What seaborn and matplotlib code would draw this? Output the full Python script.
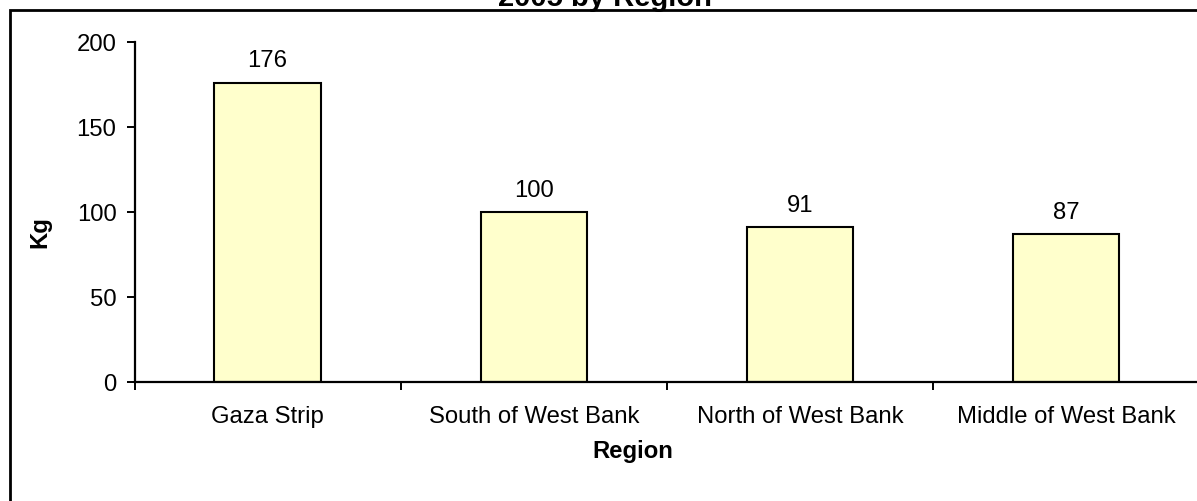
import matplotlib
matplotlib.use("Agg")
import matplotlib.pyplot as plt
from matplotlib.patches import Rectangle
import seaborn as sns
import pandas as pd

# Data
regions = ["Gaza Strip", "South of West Bank", "North of West Bank", "Middle of West Bank"]
kg = [176, 100, 91, 87]
y_ticks = [0, 50, 100, 150, 200]
title_text = "2005 by Region"
x_label = "Region"
y_label = "Kg"

sns.set_theme(style="white")
plt.rcParams["font.family"] = ["Liberation Sans", "DejaVu Sans"]
for key in ["text.color", "axes.labelcolor", "xtick.color", "ytick.color", "axes.edgecolor"]:
    plt.rcParams[key] = "black"

W, H = 1197, 502
fig = plt.figure(figsize=(W / 100, H / 100), dpi=100)
fig.patch.set_facecolor("white")

# plot area in pixel terms
x0, x1 = 134.5, 1199.3
y_top, y_bot = 42.7, 383.0
ax = fig.add_axes([x0 / W, 1 - y_bot / H, (x1 - x0) / W, (y_bot - y_top) / H])

df = pd.DataFrame({"Region": regions, "Kg": kg})
sns.barplot(data=df, x="Region", y="Kg", color="#FFFFCC", saturation=1,
            width=0.4, edgecolor="black", linewidth=1.5, ax=ax)

ax.set_xlim(-0.5, len(regions) - 0.5)
ax.set_ylim(0, 200)
ax.set_yticks(y_ticks)
ax.set_xlabel("")
ax.set_ylabel("")

for side in ["top", "right"]:
    ax.spines[side].set_visible(False)
for side in ["left", "bottom"]:
    ax.spines[side].set_linewidth(1.6)
    ax.spines[side].set_color("black")
ax.set_facecolor("white")

fs = 17.2
ax.tick_params(axis="y", direction="out", length=5.5, width=1.4, pad=7.5, labelsize=fs, left=True)
ax.tick_params(axis="x", which="major", length=0, pad=16.5, labelsize=fs)
ax.set_xticks([i - 0.5 for i in range(len(regions) + 1)], minor=True)
ax.tick_params(axis="x", which="minor", direction="out", length=5.5, width=1.4, bottom=True)

for container in ax.containers:
    ax.bar_label(container, labels=[str(v) for v in kg], padding=8, fontsize=fs)

# axis titles
fig.text(633 / W, 1 - 452 / H, x_label, ha="center", va="center",
         fontsize=fs, fontweight="bold")
fig.text(40 / W, 1 - 232.5 / H, y_label, ha="center", va="center",
         rotation=90, fontsize=fs, fontweight="bold")

# chart title
fig.text(605 / W, 1 - 5.7 / H, title_text, ha="center", va="baseline",
         fontsize=21, fontweight="bold")

# chart frame
fig.patches.append(Rectangle((10 / W, -0.2), 1.2, 1.2 - 11.3 / H,
                             transform=fig.transFigure, fill=False,
                             edgecolor="black", linewidth=2.0, zorder=5))

fig.savefig("out.png", dpi=100, facecolor="white")
